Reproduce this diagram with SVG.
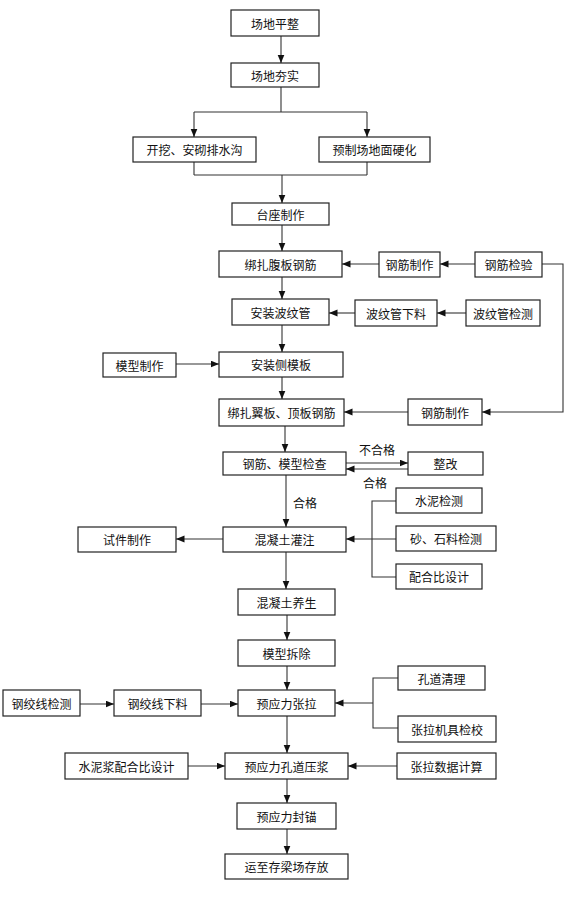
<svg xmlns="http://www.w3.org/2000/svg" width="573" height="899" viewBox="0 0 573 899">
<style>
g rect{fill:#fff;stroke:#222;stroke-width:1.2}
text{font-family:"Noto Sans CJK SC","Noto Sans CJK TC",sans-serif;font-size:12px;fill:#111;text-anchor:middle;dominant-baseline:central}
.c path{fill:none;stroke:#333;stroke-width:1.1}
.a{marker-end:url(#ah)}
</style>
<defs>
<marker id="ah" markerUnits="userSpaceOnUse" markerWidth="9" markerHeight="8" refX="8.5" refY="3.5" orient="auto"><path d="M0,0 L8.5,3.5 L0,7 z" fill="#111"/></marker>
</defs>
<rect x="0" y="0" width="573" height="899" style="fill:#fff;stroke:none"/>
<g class="c" id="connectors">
<path class="a" d="M281,36 V63"/>
<path d="M281,87 V112 M194,112 H367"/>
<path class="a" d="M194,112 V137"/>
<path class="a" d="M367,112 V137"/>
<path d="M194,162 V175 M367,162 V175 M194,175 H367"/>
<path class="a" d="M282,175 V203"/>
<path class="a" d="M282,225 V251"/>
<path class="a" d="M475,264 H440"/>
<path class="a" d="M379,264 H342"/>
<path class="a" d="M542,264 H563 V412 H482"/>
<path class="a" d="M282,277 V299"/>
<path class="a" d="M466,313 H437"/>
<path class="a" d="M355,313 H329"/>
<path class="a" d="M282,325 V352"/>
<path class="a" d="M176,364 H219"/>
<path class="a" d="M282,377 V399"/>
<path class="a" d="M408,412 H344"/>
<path class="a" d="M285,426 V452"/>
<path class="a" d="M346,463 H408"/>
<path class="a" d="M408,469 H346"/>
<path class="a" d="M286,475 V527"/>
<path class="a" d="M223,539 H176"/>
<path d="M396,501 H372 V577 H396"/>
<path class="a" d="M396,539 H346"/>
<path class="a" d="M286,552 V589"/>
<path class="a" d="M287,615 V640"/>
<path class="a" d="M287,666 V690"/>
<path class="a" d="M80,704 H114"/>
<path class="a" d="M201,704 H238"/>
<path d="M398,678 H373 V728 H398"/>
<path class="a" d="M373,703 H335"/>
<path class="a" d="M287,716 V753"/>
<path class="a" d="M188,766 H225"/>
<path class="a" d="M397,766 H348"/>
<path class="a" d="M287,779 V803"/>
<path class="a" d="M287,829 V854"/>
<text x="377" y="449">不合格</text>
<text x="375" y="482">合格</text>
<text x="305" y="502">合格</text>
</g>
<g id="n1"><rect x="231" y="10" width="88" height="26"/><text x="275" y="23">场地平整</text></g>
<g id="n2"><rect x="231" y="63" width="88" height="24"/><text x="275" y="75">场地夯实</text></g>
<g id="n3"><rect x="133" y="137" width="123" height="25"/><text x="194.5" y="149.5">开挖、安砌排水沟</text></g>
<g id="n4"><rect x="319" y="137" width="111" height="25"/><text x="374.5" y="149.5">预制场地面硬化</text></g>
<g id="n5"><rect x="232" y="203" width="97" height="22"/><text x="280.5" y="214">台座制作</text></g>
<g id="n6"><rect x="219" y="251" width="123" height="26"/><text x="280.5" y="264">绑扎腹板钢筋</text></g>
<g id="n7"><rect x="379" y="252" width="61" height="25"/><text x="409.5" y="264.5">钢筋制作</text></g>
<g id="n8"><rect x="475" y="252" width="67" height="25"/><text x="508.5" y="264.5">钢筋检验</text></g>
<g id="n9"><rect x="232" y="299" width="97" height="26"/><text x="280.5" y="312">安装波纹管</text></g>
<g id="n10"><rect x="355" y="300" width="82" height="26"/><text x="396" y="313">波纹管下料</text></g>
<g id="n11"><rect x="466" y="300" width="74" height="26"/><text x="503" y="313">波纹管检测</text></g>
<g id="n12"><rect x="103" y="353" width="73" height="24"/><text x="139.5" y="365">模型制作</text></g>
<g id="n13"><rect x="219" y="352" width="124" height="25"/><text x="281" y="364.5">安装侧模板</text></g>
<g id="n14"><rect x="219" y="399" width="125" height="27"/><text x="281.5" y="412.5">绑扎翼板、顶板钢筋</text></g>
<g id="n15"><rect x="408" y="399" width="74" height="26"/><text x="445" y="412">钢筋制作</text></g>
<g id="n16"><rect x="223" y="452" width="123" height="23"/><text x="284.5" y="463.5">钢筋、模型检查</text></g>
<g id="n17"><rect x="408" y="452" width="75" height="23"/><text x="445.5" y="463.5">整改</text></g>
<g id="n18"><rect x="223" y="527" width="123" height="25"/><text x="284.5" y="539.5">混凝土灌注</text></g>
<g id="n19"><rect x="78" y="527" width="98" height="25"/><text x="127" y="539.5">试件制作</text></g>
<g id="n20"><rect x="396" y="488" width="86" height="25"/><text x="439" y="500.5">水泥检测</text></g>
<g id="n21"><rect x="396" y="526" width="100" height="25"/><text x="446" y="538.5">砂、石料检测</text></g>
<g id="n22"><rect x="396" y="564" width="86" height="25"/><text x="439" y="576.5">配合比设计</text></g>
<g id="n23"><rect x="238" y="589" width="97" height="26"/><text x="286.5" y="602">混凝土养生</text></g>
<g id="n24"><rect x="238" y="640" width="97" height="26"/><text x="286.5" y="653">模型拆除</text></g>
<g id="n25"><rect x="238" y="690" width="97" height="26"/><text x="286.5" y="703">预应力张拉</text></g>
<g id="n26"><rect x="3" y="690" width="77" height="26"/><text x="41.5" y="703">钢绞线检测</text></g>
<g id="n27"><rect x="114" y="690" width="87" height="26"/><text x="157.5" y="703">钢绞线下料</text></g>
<g id="n28"><rect x="398" y="666" width="87" height="24"/><text x="441.5" y="678">孔道清理</text></g>
<g id="n29"><rect x="398" y="716" width="98" height="26"/><text x="447" y="729">张拉机具检校</text></g>
<g id="n30"><rect x="65" y="753" width="123" height="26"/><text x="126.5" y="766">水泥浆配合比设计</text></g>
<g id="n31"><rect x="225" y="753" width="123" height="26"/><text x="286.5" y="766">预应力孔道压浆</text></g>
<g id="n32"><rect x="397" y="753" width="99" height="26"/><text x="446.5" y="766">张拉数据计算</text></g>
<g id="n33"><rect x="237" y="803" width="99" height="26"/><text x="286.5" y="816">预应力封锚</text></g>
<g id="n34"><rect x="225" y="854" width="123" height="25"/><text x="286.5" y="866.5">运至存梁场存放</text></g>
</svg>
